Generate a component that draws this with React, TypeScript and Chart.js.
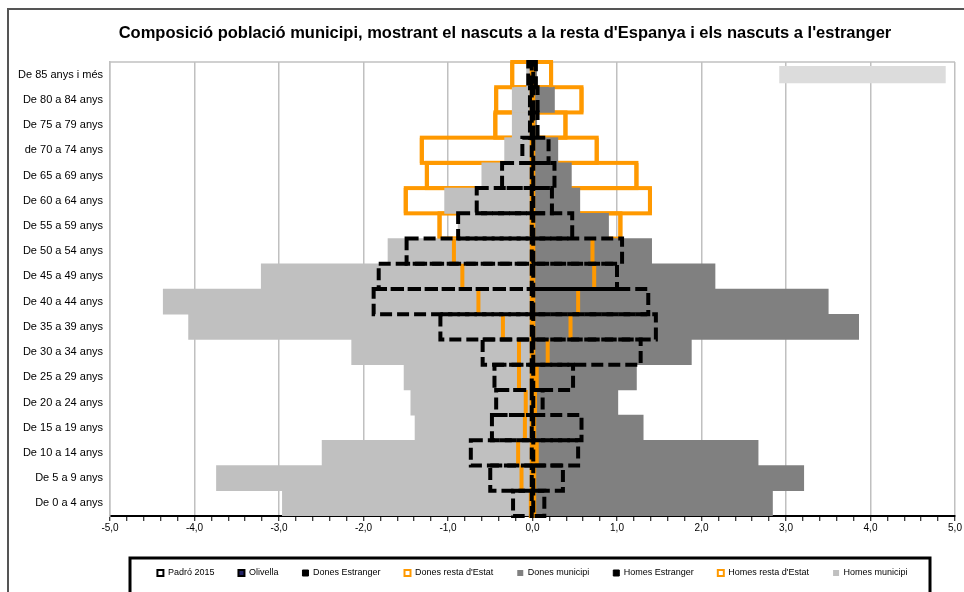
import React, { useEffect, useRef } from "react";
import { Chart, registerables } from "chart.js";

Chart.register(...registerables);

const categories = [
  "De 0 a 4 anys",
  "De 5 a 9 anys",
  "De 10 a 14 anys",
  "De 15 a 19 anys",
  "De 20 a 24 anys",
  "De 25 a 29 anys",
  "De 30 a 34 anys",
  "De 35 a 39 anys",
  "De 40 a 44 anys",
  "De 45 a 49 anys",
  "De 50 a 54 anys",
  "De 55 a 59 anys",
  "De 60 a 64 anys",
  "De 65 a 69 anys",
  "de 70 a 74 anys",
  "De 75 a 79 anys",
  "De 80 a 84 anys",
  "De 85 anys i més",
];

const homesMunicipi = [-2.96, -3.74, -2.49, -1.39, -1.44, -1.52, -2.14, -4.07, -4.37, -3.21, -1.71, -0.88, -1.04, -0.6, -0.33, -0.24, -0.24, -0.07];
const donesMunicipi = [2.84, 3.21, 2.67, 1.31, 1.01, 1.23, 1.88, 3.86, 3.5, 2.16, 1.41, 0.9, 0.56, 0.46, 0.3, 0.05, 0.26, 0.05];
const homesResta = [-0.02, -0.13, -0.17, -0.09, -0.08, -0.16, -0.16, -0.35, -0.64, -0.83, -0.93, -1.1, -1.5, -1.25, -1.31, -0.44, -0.43, -0.24];
const donesResta = [0.02, 0.02, 0.05, 0.02, 0.03, 0.05, 0.18, 0.45, 0.54, 0.73, 0.71, 1.04, 1.39, 1.23, 0.76, 0.39, 0.58, 0.22];
const homesEstranger = [-0.23, -0.5, -0.73, -0.48, -0.43, -0.45, -0.59, -1.09, -1.88, -1.82, -1.49, -0.88, -0.66, -0.36, -0.12, -0.03, -0.03, -0.05];
const donesEstranger = [0.14, 0.36, 0.54, 0.58, 0.12, 0.48, 1.28, 1.46, 1.37, 1.0, 1.06, 0.47, 0.23, 0.26, 0.19, 0.06, 0.06, 0.04];
const padro2015: (number | null)[] = categories.map(() => null);
const olivella: (number | null)[] = categories.map(() => null);
const fonsBar: ([number, number] | null)[] = [null, null, null, null, null, null, null, null, null, null, null, null, null, null, null, null, null, [2.92, 4.89]];

const xTickValues = { min: -5, max: 5, step: 0.2 };

const TITLE = "Composició població municipi, mostrant el nascuts a la resta d'Espanya i els nascuts a l'estranger";

const ORANGE = "#ff9900";
const FONT = "'Liberation Sans', Arial, Helvetica, sans-serif";

const LEGEND_STYLE: Record<string, { fill: string; stroke: string; lw: number }> = {
  "Padró 2015": { fill: "#ffffff", stroke: "#000000", lw: 2 },
  Olivella: { fill: "#222266", stroke: "#000000", lw: 2 },
  "Dones Estranger": { fill: "#000000", stroke: "#000000", lw: 1 },
  "Dones resta d'Estat": { fill: "#ffffff", stroke: ORANGE, lw: 2 },
  "Dones municipi": { fill: "#808080", stroke: "#808080", lw: 0 },
  "Homes Estranger": { fill: "#000000", stroke: "#000000", lw: 1 },
  "Homes resta d'Estat": { fill: "#ffffff", stroke: ORANGE, lw: 2 },
  "Homes municipi": { fill: "#c0c0c0", stroke: "#c0c0c0", lw: 0 },
};

const OUTLINE: Record<string, "dash" | "orange"> = {
  "Dones Estranger": "dash",
  "Homes Estranger": "dash",
  "Dones resta d'Estat": "orange",
  "Homes resta d'Estat": "orange",
};

function boxesOf(chart: any, index: number) {
  const meta = chart.getDatasetMeta(index);
  const ds = chart.data.datasets[index];
  const out: { l: number; r: number; t: number; b: number }[] = [];
  meta.data.forEach((el: any, j: number) => {
    const v = ds.data[j];
    if (v === null || v === undefined) return;
    const p = el.getProps(["x", "y", "base", "height"], true);
    out.push({
      l: Math.min(p.x, p.base),
      r: Math.max(p.x, p.base),
      t: p.y - p.height / 2,
      b: p.y + p.height / 2,
    });
  });
  return out;
}

const outlinePlugin = {
  id: "outlines",
  beforeDatasetsDraw(chart: any) {
    const ctx = chart.ctx;
    const a = chart.chartArea;
    ctx.save();
    ctx.strokeStyle = "#c0c0c0";
    ctx.lineWidth = 1.5;
    ctx.beginPath();
    ctx.moveTo(a.left, a.top);
    ctx.lineTo(a.right, a.top);
    ctx.stroke();
    chart.data.datasets.forEach((ds: any, i: number) => {
      if (OUTLINE[ds.label] !== "orange") return;
      ctx.strokeStyle = ORANGE;
      ctx.lineWidth = 4;
      ctx.setLineDash([]);
      boxesOf(chart, i).forEach((bx) => ctx.strokeRect(bx.l, bx.t, bx.r - bx.l, bx.b - bx.t));
    });
    ctx.restore();
  },
  afterDatasetsDraw(chart: any) {
    const ctx = chart.ctx;
    ctx.save();
    chart.data.datasets.forEach((ds: any, i: number) => {
      if (OUTLINE[ds.label] !== "orange") return;
      ctx.strokeStyle = ORANGE;
      ctx.lineWidth = 4;
      ctx.setLineDash([]);
      ctx.beginPath();
      boxesOf(chart, i).forEach((bx) => {
        ctx.moveTo(bx.l, bx.t);
        ctx.lineTo(bx.l, bx.b);
        ctx.moveTo(bx.r, bx.t);
        ctx.lineTo(bx.r, bx.b);
      });
      ctx.stroke();
    });
    chart.data.datasets.forEach((ds: any, i: number) => {
      if (OUTLINE[ds.label] !== "dash") return;
      ctx.strokeStyle = "#000000";
      ctx.lineWidth = 4;
      ctx.setLineDash([12, 5]);
      boxesOf(chart, i).forEach((bx) => ctx.strokeRect(bx.l, bx.t, bx.r - bx.l, bx.b - bx.t));
    });
    ctx.restore();
  },
  afterDraw(chart: any) {
    const lg = chart.legend;
    if (!lg) return;
    const ctx = chart.ctx;
    ctx.save();
    ctx.strokeStyle = "#000000";
    ctx.lineWidth = 3;
    ctx.setLineDash([]);
    ctx.strokeRect(lg.left + 20, lg.top + 13.5, lg.width - 45, 200);
    ctx.restore();
  },
};

function barDs(label: string, data: any[], color: string, extra: any = {}) {
  return {
    label,
    data,
    backgroundColor: color,
    borderWidth: 0,
    barPercentage: 1,
    categoryPercentage: 1,
    grouped: false,
    yAxisID: "y",
    ...extra,
  };
}

export default function App() {
  const ref = useRef<HTMLCanvasElement>(null);

  useEffect(() => {
    if (!ref.current) return;
    Chart.defaults.font.family = FONT;
    Chart.defaults.color = "#000000";
    const chart = new Chart(ref.current, {
      type: "bar",
      data: {
        labels: categories,
        datasets: [
          barDs("Padró 2015", padro2015, "transparent"),
          barDs("Olivella", olivella, "transparent"),
          barDs("Dones Estranger", donesEstranger, "transparent"),
          barDs("Dones resta d'Estat", donesResta, "transparent"),
          barDs("Dones municipi", donesMunicipi, "#808080"),
          barDs("Homes Estranger", homesEstranger, "transparent"),
          barDs("Homes resta d'Estat", homesResta, "transparent"),
          barDs("Homes municipi", homesMunicipi, "#c0c0c0"),
          barDs("", fonsBar, "#dcdcdc", { barPercentage: 0.68 }),
        ] as any,
      },
      options: {
        animation: false,
        responsive: false,
        devicePixelRatio: 1,
        indexAxis: "y",
        layout: { padding: { left: 0, right: 0, top: 0, bottom: 20.5 } },
        plugins: {
          tooltip: { enabled: false },
          title: {
            display: true,
            text: TITLE,
            color: "#000000",
            font: { size: 16.5, weight: "bold", family: FONT },
            padding: { top: 15.5, bottom: 18.7 },
          },
          legend: {
            display: true,
            position: "bottom",
            fullSize: false,
            labels: {
              boxWidth: 6,
              boxHeight: 6,
              padding: 24,
              color: "#000000",
              font: { size: 9, family: FONT },
              generateLabels: (chart: any) =>
                chart.data.datasets
                  .map((ds: any, i: number) => {
                    const st = LEGEND_STYLE[ds.label];
                    if (!st) return null;
                    return {
                      text: ds.label,
                      fillStyle: st.fill,
                      strokeStyle: st.stroke,
                      lineWidth: st.lw,
                      hidden: false,
                      datasetIndex: i,
                      fontColor: "#000000",
                    };
                  })
                  .filter(Boolean),
            },
          },
        },
        scales: {
          x: {
            type: "linear",
            min: xTickValues.min,
            max: xTickValues.max,
            afterFit: (scale: any) => {
              scale.height = 28.5;
            },
            ticks: {
              stepSize: xTickValues.step,
              autoSkip: false,
              maxRotation: 0,
              padding: 1,
              color: "#000000",
              font: { size: 10, family: FONT },
              callback: (v: any) => {
                const n = Number(v);
                return Math.abs(n - Math.round(n)) < 1e-6 ? Math.round(n).toFixed(1).replace(".", ",") : "";
              },
            },
            grid: {
              color: (c: any) => {
                const n = c.tick ? Number(c.tick.value) : 0.5;
                return Math.abs(n - Math.round(n)) < 1e-6 ? "#c0c0c0" : "rgba(0,0,0,0)";
              },
              lineWidth: 1.5,
              tickColor: "#000000",
              tickLength: 5,
              tickWidth: 1,
              drawTicks: true,
            },
            border: { display: true, color: "#000000", width: 2 },
          },
          y: {
            type: "category",
            reverse: true,
            afterFit: (scale: any) => {
              scale.width = 102;
            },
            ticks: {
              padding: 7,
              color: "#000000",
              font: { size: 11, family: FONT },
              autoSkip: false,
            },
            grid: { display: false, drawTicks: false },
            border: { display: true, color: "#c0c0c0", width: 1.5 },
          },
          yRight: {
            type: "category",
            position: "right",
            reverse: true,
            afterFit: (scale: any) => {
              scale.width = 47;
            },
            ticks: { display: false },
            grid: { display: false, drawTicks: false },
            border: { display: false },
          },
        },
      } as any,
      plugins: [outlinePlugin],
    });
    return () => chart.destroy();
  }, []);

  return (
    <div
      style={{
        position: "fixed",
        left: 0,
        top: 0,
        width: 964,
        height: 592,
        overflow: "hidden",
        background: "#ffffff",
      }}
    >
      <div
        style={{
          position: "absolute",
          left: 7,
          top: 8,
          width: 1100,
          height: 700,
          borderLeft: "2px solid #555555",
          borderTop: "2px solid #555555",
        }}
      />
      <canvas
        ref={ref}
        width={994}
        height={600}
        style={{ position: "absolute", left: 8, top: 8, width: 994, height: 600 }}
      />
    </div>
  );
}
